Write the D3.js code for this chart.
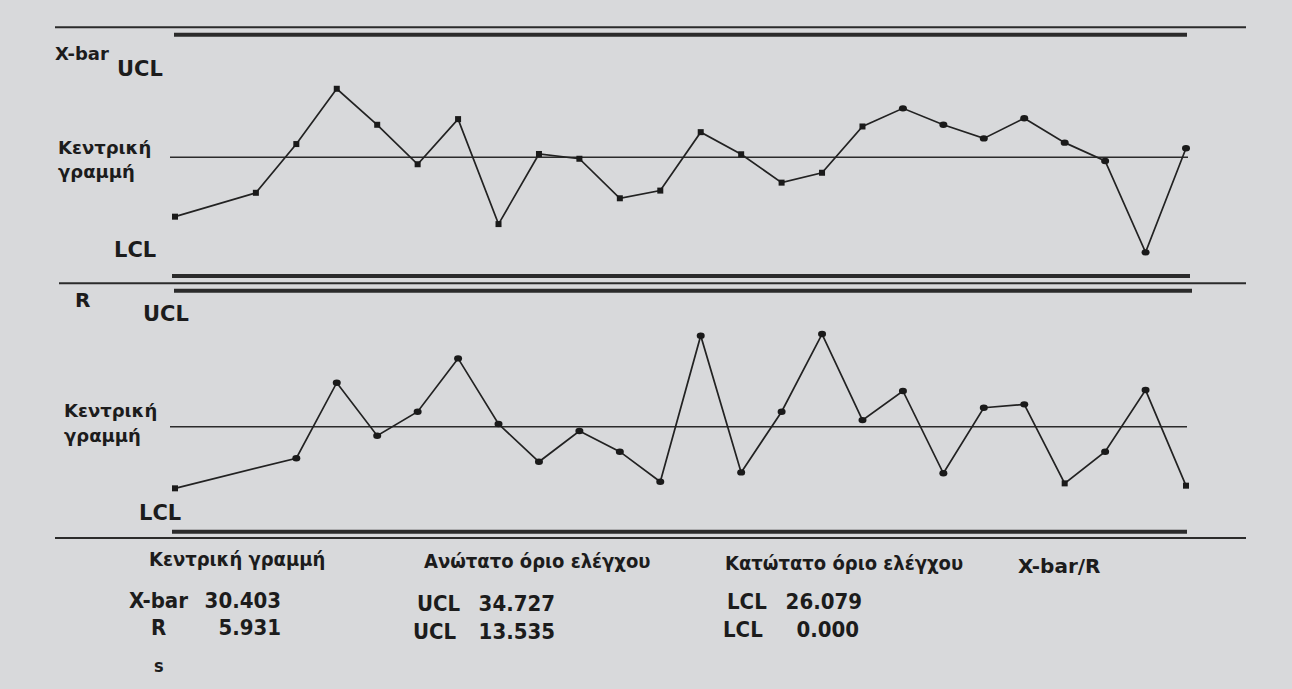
<!doctype html>
<html lang="el">
<head>
    <meta charset="UTF-8">
    <title>Διάγραμμα ελέγχου X-bar/R</title>
    <script src="https://d3js.org/d3.v7.min.js"></script>
    <style>
      body { margin: 0; background: #d8d9db; }
      svg { display: block; }
      text { fill: #1c1c1c; font-family: "DejaVu Sans", sans-serif; font-weight: bold; }
      .narrow { font-family: "DejaVu Sans Condensed", "Liberation Sans Narrow", "DejaVu Sans", sans-serif; }
    </style>
</head>
<body>
    <div id="chart"></div>

    <script>

      // Sample numbers (null = no point drawn for that sample)
      const samples = [1, 2, 3, 4, 5, 6, 7, 8, 9, 10, 11, 12, 13, 14, 15, 16, 17, 18, 19, 20, 21, 22, 23, 24, 25, 26];

      // X-bar values per sample
      const xbarValues = [28.24, null, 29.11, 30.87, 32.82, 31.55, 30.15, 31.75, 27.97, 30.52, 30.35, 28.91, 29.19,
        31.29, 30.51, 29.48, 29.84, 31.49, 32.13, 31.55, 31.07, 31.78, 30.92, 30.27, 26.94, 30.72];

      // R values per sample
      const rangeValues = [2.45, null, null, 4.15, 8.39, 5.42, 6.77, 9.75, 6.08, 3.95, 5.69, 4.52, 2.82,
        11.02, 3.35, 6.77, 11.11, 6.30, 7.93, 3.30, 6.99, 7.18, 2.73, 4.52, 7.98, 2.60];

      // control limits: [centre line, UCL, LCL]
      const limitTitles = ['Κεντρική γραμμή', 'Ανώτατο όριο ελέγχου', 'Κατώτατο όριο ελέγχου'];
      const limitCodes = ['', 'UCL', 'LCL'];
      const xbarLimits = [30.403, 34.727, 26.079];
      const rangeLimits = [5.931, 13.535, 0.000];
      const statNames = ['X-bar', 'R', 's'];

      const width = 1292;
      const height = 689;
      const ink = '#2b2b2b';

      const svg = d3.select('#chart')
          .append('svg')
          .attr('width', width)
          .attr('height', height);

      // x scale shared by both panels
      const x = d3.scaleLinear()
          .domain([samples[0], samples[samples.length - 1]])
          .range([175, 1186]);

      // y scales, pinned on LCL / CL / UCL
      const yX = d3.scaleLinear()
          .domain([xbarLimits[2], xbarLimits[0], xbarLimits[1]])
          .range([276, 157.3, 34.7]);

      const yR = d3.scaleLinear()
          .domain([rangeLimits[2], rangeLimits[0], rangeLimits[1]])
          .range([531.7, 426.7, 290.7]);

      // thin separators between the panels
      [27.3, 283.3, 538].forEach((yy, i) => {
        svg.append('line')
            .attr('x1', i === 1 ? 59 : 55).attr('x2', 1246)
            .attr('y1', yy).attr('y2', yy)
            .attr('stroke', ink)
            .attr('stroke-width', 2);
      });

      function drawPanel(values, limits, y, ends, squareMarks) {
        // UCL and LCL thick lines
        svg.append('line')
            .attr('x1', 174).attr('x2', ends[0])
            .attr('y1', y(limits[1])).attr('y2', y(limits[1]))
            .attr('stroke', ink).attr('stroke-width', 4);
        svg.append('line')
            .attr('x1', 172).attr('x2', ends[2])
            .attr('y1', y(limits[2])).attr('y2', y(limits[2]))
            .attr('stroke', ink).attr('stroke-width', 4);
        // centre line
        svg.append('line')
            .attr('x1', 170).attr('x2', ends[1])
            .attr('y1', y(limits[0])).attr('y2', y(limits[0]))
            .attr('stroke', ink).attr('stroke-width', 1.6);

        const pts = samples.map((s, i) => ({ s, v: values[i] })).filter(d => d.v !== null);

        const line = d3.line()
            .x(d => x(d.s))
            .y(d => y(d.v));

        svg.append('path')
            .datum(pts)
            .attr('fill', 'none')
            .attr('stroke', '#222')
            .attr('stroke-width', 1.7)
            .attr('d', line);

        svg.append('g')
            .selectAll('rect')
            .data(pts.filter((d, i) => squareMarks(d, i)))
            .join('rect')
            .attr('x', d => x(d.s) - 3)
            .attr('y', d => y(d.v) - 3)
            .attr('width', 6)
            .attr('height', 6)
            .attr('fill', '#1a1a1a');

        svg.append('g')
            .selectAll('ellipse')
            .data(pts.filter((d, i) => !squareMarks(d, i)))
            .join('ellipse')
            .attr('cx', d => x(d.s))
            .attr('cy', d => y(d.v))
            .attr('rx', 4)
            .attr('ry', 3.2)
            .attr('fill', '#1a1a1a');
      }

      drawPanel(xbarValues, xbarLimits, yX, [1187, 1188, 1190], (d, i) => d.s <= 18);
      drawPanel(rangeValues, rangeLimits, yR, [1192, 1187, 1187], (d, i) => i === 0 || d.v < xbarLimits[0] / 10 && d.s > 18);

      // panel labels
      const label = (t, px, py, size) => svg.append('text')
          .attr('x', px).attr('y', py)
          .style('font-size', size + 'px')
          .text(t);

      label(statNames[0], 55, 60, 18);
      label(limitCodes[1], 117, 76, 21);
      label('Κεντρική', 58, 154, 18);
      label('γραμμή', 58, 178, 18);
      label(limitCodes[2], 114, 257, 21);

      label(statNames[1], 75, 307, 20);
      label(limitCodes[1], 143, 321, 21);
      label('Κεντρική', 64, 417, 18);
      label('γραμμή', 64, 442, 18);
      label(limitCodes[2], 139, 520, 21);

      // summary block under the chart
      const fmt = d3.format('.3f');
      const info = (t, px, py, size, anchor) => svg.append('text')
          .attr('class', 'narrow')
          .attr('x', px).attr('y', py)
          .attr('text-anchor', anchor || 'start')
          .style('font-size', size + 'px')
          .text(t);

      info(limitTitles[0], 149, 566, 20);
      info(limitTitles[1], 424, 568, 20);
      info(limitTitles[2], 725, 570, 20);
      label(statNames[0] + '/' + statNames[1], 1018, 573, 20);

      info(statNames[0], 129, 608, 22);
      info(fmt(xbarLimits[0]), 281, 608, 22, 'end');
      info(statNames[1], 151, 635, 22);
      info(fmt(rangeLimits[0]), 281, 635, 22, 'end');
      info(statNames[2], 154, 672, 18);

      info(limitCodes[1], 417, 611, 22);
      info(fmt(xbarLimits[1]), 555, 611, 22, 'end');
      info(limitCodes[1], 413, 639, 22);
      info(fmt(rangeLimits[1]), 555, 639, 22, 'end');

      info(limitCodes[2], 727, 609, 22);
      info(fmt(xbarLimits[2]), 862, 609, 22, 'end');
      info(limitCodes[2], 723, 637, 22);
      info(fmt(rangeLimits[2]), 859, 637, 22, 'end');

    </script>

</body>
</html>
